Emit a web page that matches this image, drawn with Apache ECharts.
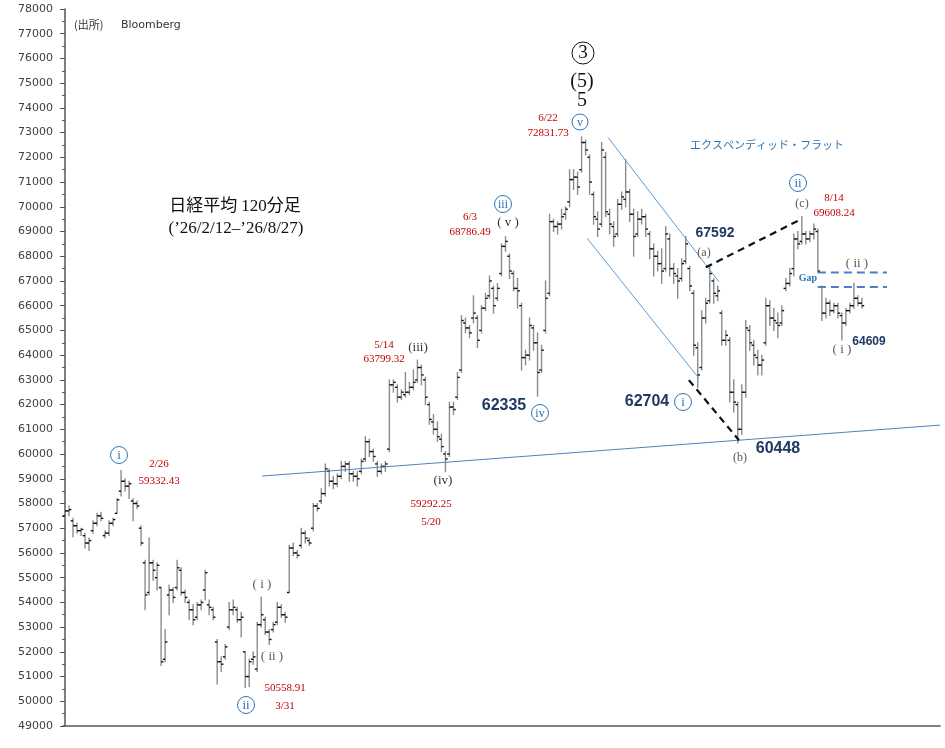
<!DOCTYPE html>
<html><head><meta charset="utf-8">
<script src="https://cdn.jsdelivr.net/npm/echarts@6/dist/echarts.min.js"></script>
<style>html,body{margin:0;padding:0;background:#fff}#c{width:945px;height:748px}</style>
</head><body><div id="c"></div>
<script>
// OHLC rows [open, high, low, close], 120-minute bars
const segFebMar = [
[57500,57800,57300,57700],[57700,57900,57500,57750],[57300,57400,56650,57100],[57100,57200,56800,56900],
[56900,57000,56700,56950],[56700,56800,56200,56400],[56400,56600,56100,56500],[56900,57300,56800,57200],
[57200,57600,57100,57500],[57500,57650,57300,57400],[56700,56900,56600,56800],[56800,57300,56700,57200],
[57200,57400,57100,57350],[57600,58200,57600,58150],[58500,59330,58300,58900],[58900,59000,58500,58700],
[58700,58900,58200,58800],[58100,58200,57300,58000],[58000,58100,57800,57900],[57000,57100,56300,56400],
[55600,55700,53700,54300],[54400,56600,54300,55600],[55600,55700,54900,55300],[55000,55600,54500,55500],
[54600,54600,51450,51600],[51700,52900,51600,52400],[54300,54700,53500,54500],[54500,54600,54000,54200],
[54600,55700,54500,55400],[55300,55400,54300,54400],[54400,54500,54000,54200],[54000,54100,53300,53700],
[53700,53900,53100,53300],[53400,54000,53300,53900],[53900,54100,53700,54000],[54500,55300,54100,55200],
[53900,54100,53500,53800],[53700,53800,53300,53400],[52400,52500,50700,51600],[51600,51800,51200,51500],
[51800,52300,51700,52200],[53000,54000,52900,53700],[53700,54100,53500,53800],[53700,53800,53200,53300],
[53300,53600,52600,53400],[52000,52000,50560,51000],[51000,51700,50600,51600],[51700,52000,51500,51800],
[51300,53200,51200,53100],[53100,54220,53000,53500],[53300,53400,52700,52800],[52800,52900,52300,52500],
[52900,53200,52800,53100],[53200,54000,53100,53800],[53800,53900,53400,53500],[53500,53600,53200,53400]
];
const segAprMay = [
[54400,56300,54400,56200],[56200,56400,55900,56000],[56000,56100,55800,55900],[56300,57000,56200,56800],
[56800,56900,56400,56600],[56500,56600,56300,56400],[57000,58000,56900,57900],[57900,58000,57700,57800],
[58100,58600,58000,58400],[58400,59600,58300,59400],[59300,59400,58700,58900],[58900,59100,58600,58800],
[58800,59200,58700,59100],[59100,59700,59000,59500],[59500,59700,59300,59600],[59600,59700,58900,59200],
[59200,59300,58900,59100],[59100,59300,58700,59000],[59300,59800,59200,59700],[59800,60700,59700,60500],
[60500,60600,59900,60100],[60100,60200,59700,59900],[59600,59700,59100,59300],[59300,59600,59200,59500],
[59500,59700,59300,59600],[60200,63000,60100,62800],[62800,63000,62500,62900],[62700,62800,62100,62300],
[62300,62600,62200,62500],[62400,63300,62300,62500],[62500,62900,62400,62700],[62700,63400,62600,62900],
[63000,63800,62900,63500],[63500,63600,62800,63200],[63000,63100,62000,62300],[62000,62100,61200,61400],
[61300,61600,60800,61000],[61000,61300,60500,60700],[60600,60800,60100,60300],[60000,60100,59290,59800],
[60000,62100,59900,61900],[61900,62100,61600,61800],[62300,63300,62200,63100],[63400,65600,63300,65400],
[65300,65500,64900,65100],[65100,65200,64700,64900],[65500,66400,65300,65700],[65500,65600,64300,64600],
[65000,66000,64900,65900],[65900,66500,65800,66300],[66400,67200,66300,67000],[66700,66800,65700,66000],
[66300,66900,66200,66700],[67300,68500,67200,68400],[68400,68790,68200,68600],[68000,68100,67100,67400],
[67300,67400,66600,66700],[66700,67100,65900,66600],[66000,66100,63400,63900],[63900,64200,63600,64000],
[64000,65500,63800,65200],[65100,65200,64200,64500],[64500,64900,62340,63300],[63400,64400,63300,64200],
[65000,67000,64900,66300]
];
const segJun = [
[66500,69700,66400,69400],[69400,69500,69000,69200],[69200,69400,68900,69300],[69300,69900,69100,69600],
[69700,70000,69500,69900],[70200,71500,70000,71100],[71100,71500,70700,71200],[71200,71400,70500,70800],
[71500,72830,71400,72600],[72600,72700,72100,72300],[72000,72100,70500,71000],[70500,70600,69300,69600],
[69500,69800,68800,69100],[69300,72600,69200,72300],[72000,72200,69600,69800],[69700,69900,68900,69300],
[69200,69400,68400,68800],[68900,70300,68800,70100],[70100,70600,69900,70400],[70300,71900,70000,70600],
[70600,70700,69400,69700],[69700,69900,68000,68800],[68900,69800,68800,69500],[69500,69900,69300,69600],
[69600,69700,68800,69100],[68900,69000,67900,68300],[68300,68500,67200,68000],[68000,68200,67400,67700],
[67700,68300,66900,67400],[67500,69200,67400,68900],[68700,68900,67200,67500],[67500,67700,66900,67300],
[67200,67500,66300,67000],[67100,67900,67000,67700],[67800,68800,67700,68500],[67500,67600,66600,66800],
[66500,66600,64000,64400],[64300,64500,62700,63200],[63500,65800,63400,65500],[65500,66300,65300,66100],
[66200,67590,66100,67300]
];
const segJulAug = [
[67000,67100,66100,66500],[66400,66800,66200,66600],[65700,65800,64400,64600],[64600,65000,64400,64800],
[64600,64700,62100,62500],[62500,63000,61700,62100],[62000,62100,60450,61000],[61000,62800,60800,62500],
[62500,65400,62300,65100],[65000,65200,64200,64500],[64400,64600,63600,64000],[63900,64200,63200,63600],
[63600,64000,63200,63800],[64500,66300,64400,66000],[66000,66200,65200,65500],[65500,65900,65000,65400],
[65300,65700,64700,65200],[65300,66000,65200,65800],[66700,67100,66600,66900],[66900,67500,66800,67300],
[67500,68900,67200,68700],[68700,69000,68300,68500],[68600,69610,68500,68900],[68900,69000,68500,68700],
[68700,69000,68600,68900],[68900,69300,68700,69100],[69000,69100,67340,67400],[66750,66800,65400,65700],
[65700,66300,65500,66100],[66100,66200,65600,65800],[65800,66100,65700,66000],[66000,66100,65500,65700],
[65600,65700,64610,65300],[65300,65900,65200,65800],[65800,66100,65700,66000],[66000,66910,65900,66300],
[66300,66400,66000,66100],[66100,66300,65900,66000]
];
// guide lines [barIndex, price]
const supportLine = [[49.25, 59110], [218.5, 61170]];
const channelUpper = [[135.6, 72807], [163.3, 66968]];
const channelLower = [[130.4, 68723], [158.3, 63061]];
const flatAC = [[160, 67551], [183.75, 69493]];
const flatIB = [[155.8, 62990], [168.3, 60560]];
const gapTop = [[188, 67340], [205.25, 67340]];
const gapBottom = [[188, 66760], [205.25, 66760]];
const yMin = 49000, yMax = 78000, yStep = 1000;
const slots = 219;

const rows = segFebMar.concat(segAprMay, segJun, segJulAug);
const data = rows.map((r, i) => [i, r[0], r[1], r[2], r[3]]);

const SERIF = "'Liberation Serif','DejaVu Serif','Noto Sans CJK JP',serif";
const SANS = "'Liberation Sans','DejaVu Sans',sans-serif";
function T(text, x, y, size, color, opt) {
  opt = opt || {};
  return { type: 'text', x: x, y: y, z: 50, silent: true,
    style: { text: text, fill: color, align: opt.align || 'center', verticalAlign: 'middle',
      font: (opt.weight || 'normal') + ' ' + size + 'px ' + (opt.family || SERIF) } };
}
function C(label, x, y, r, color, size) {
  return { type: 'group', x: x, y: y, z: 50, silent: true, children: [
    { type: 'circle', shape: { cx: 0, cy: 0, r: r }, style: { fill: '#fff', stroke: color, lineWidth: 1 } },
    { type: 'text', style: { text: label, x: 0, y: 0.5, align: 'center', verticalAlign: 'middle', fill: color, font: size + 'px ' + SERIF } }
  ] };
}
const RED = '#c00000', NAVY = '#1f3864', GRAY = '#595959', BLUE = '#2e75b6';

function lineSeries(pts, color, width, dash) {
  return { type: 'line', data: pts, symbol: 'none', silent: true, z: 5, animation: false,
    lineStyle: { color: color, width: width, type: dash || 'solid' } };
}

const chart = echarts.init(document.getElementById('c'));
chart.setOption({
  animation: false,
  grid: { left: 63, right: 5, top: 9, bottom: 22 },
  xAxis: { type: 'value', min: -0.5, max: slots - 0.5,
    axisLine: { show: true, onZero: false, lineStyle: { color: '#555', width: 1.5 } },
    axisTick: { show: false }, axisLabel: { show: false }, splitLine: { show: false } },
  yAxis: { type: 'value', min: yMin, max: yMax, interval: yStep,
    axisLine: { show: true, lineStyle: { color: '#555', width: 1.5 } },
    axisTick: { show: true, length: 5, lineStyle: { color: '#555' } },
    minorTick: { show: true, splitNumber: 2, length: 3, lineStyle: { color: '#555' } },
    axisLabel: { color: '#404040', fontSize: 11, fontFamily: "'DejaVu Sans',sans-serif", margin: 10,
      formatter: function (v) { return String(v); } },
    splitLine: { show: false } },
  series: [
    { type: 'custom', data: data, z: 3,
      renderItem: function (params, api) {
        const x = api.value(0);
        const pO = api.coord([x, api.value(1)]), pH = api.coord([x, api.value(2)]);
        const pL = api.coord([x, api.value(3)]), pC = api.coord([x, api.value(4)]);
        return { type: 'group', children: [
          { type: 'line', shape: { x1: pH[0], y1: pH[1] - 0.5, x2: pL[0], y2: pL[1] + 0.5 }, style: { stroke: '#8c8c8c', lineWidth: 1.4 } },
          { type: 'line', shape: { x1: pO[0] - 2.3, y1: pO[1], x2: pO[0], y2: pO[1] }, style: { stroke: '#111', lineWidth: 1.4 } },
          { type: 'line', shape: { x1: pC[0], y1: pC[1], x2: pC[0] + 2.3, y2: pC[1] }, style: { stroke: '#111', lineWidth: 1.4 } }
        ] };
      } },
    lineSeries(supportLine, '#4f81bd', 1),
    lineSeries(channelUpper, '#5b9bd5', 1),
    lineSeries(channelLower, '#5b9bd5', 1),
    lineSeries(flatAC, '#111', 2.2, [7, 5]),
    lineSeries(flatIB, '#111', 2.2, [7, 5]),
    lineSeries(gapTop, '#4a7fc1', 2, [8, 5]),
    lineSeries(gapBottom, '#4a7fc1', 2, [8, 5])
  ],
  graphic: [
    T('(出所)', 74, 25, 11, '#333', { align: 'left', family: "'Noto Sans CJK JP',sans-serif" }),
    T('Bloomberg', 121, 25, 11, '#333', { align: 'left', family: "'DejaVu Sans',sans-serif" }),
    T('日経平均 120分足', 235, 207, 17, '#111'),
    T('(’26/2/12–’26/8/27)', 236, 229, 17, '#111'),
    C('i', 119, 455, 8.5, BLUE, 13),
    T('2/26', 159, 464, 11, RED), T('59332.43', 159, 481, 11, RED),
    C('ii', 246, 705, 8.5, BLUE, 13),
    T('( i )', 262, 585, 13, GRAY), T('( ii )', 272, 657, 13, GRAY),
    T('50558.91', 285, 688, 11, RED), T('3/31', 285, 706, 11, RED),
    T('5/14', 384, 345, 11, RED), T('63799.32', 384, 359, 11, RED),
    T('(iii)', 418, 348, 13, '#333'),
    T('(iv)', 443, 481, 13, '#333'),
    T('59292.25', 431, 504, 11, RED), T('5/20', 431, 522, 11, RED),
    T('6/3', 470, 217, 11, RED), T('68786.49', 470, 232, 11, RED),
    C('iii', 503, 204, 8.5, BLUE, 12),
    T('( v )', 508, 223, 13, '#333'),
    T('62335', 504, 406, 16, NAVY, { weight: 'bold', family: SANS }),
    C('iv', 540, 413, 8.5, BLUE, 12),
    C('3', 583, 53, 11, '#111', 19),
    T('(5)', 582, 82, 20, '#111'), T('5', 582, 101, 20, '#111'),
    T('6/22', 548, 118, 11, RED), T('72831.73', 548, 133, 11, RED),
    C('v', 580, 122, 8, BLUE, 12),
    T('エクスペンディッド・フラット', 690, 145, 11, BLUE, { align: 'left', family: "'Noto Sans CJK JP',sans-serif" }),
    T('67592', 715, 233, 14, NAVY, { weight: 'bold', family: SANS }),
    T('(a)', 704, 253, 12, GRAY),
    T('62704', 647, 402, 16, NAVY, { weight: 'bold', family: SANS }),
    C('i', 683, 402, 8.5, BLUE, 13),
    T('(b)', 740, 458, 12, GRAY),
    T('60448', 778, 449, 16, NAVY, { weight: 'bold', family: SANS }),
    C('ii', 798, 183, 8.5, BLUE, 13),
    T('(c)', 802, 204, 12, GRAY),
    T('8/14', 834, 198, 11, RED), T('69608.24', 834, 213, 11, RED),
    T('( ii )', 857, 264, 13, GRAY),
    T('Gap', 808, 278, 10, BLUE, { weight: 'bold' }),
    T('( i )', 842, 350, 13, GRAY),
    T('64609', 869, 342, 12, NAVY, { weight: 'bold', family: SANS })
  ]
});
</script></body></html>
